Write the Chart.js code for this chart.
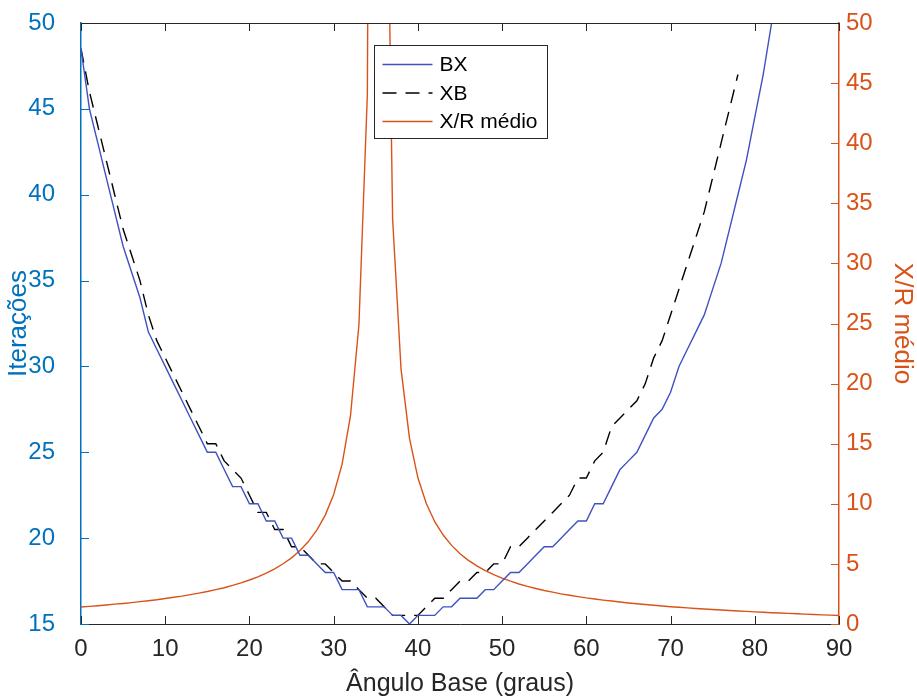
<!DOCTYPE html>
<html>
<head>
<meta charset="utf-8">
<script src="https://cdn.jsdelivr.net/npm/chart.js@4.4.1/dist/chart.umd.min.js"></script>
<style>
  html, body { margin: 0; padding: 0; background: #fff; }
  #wrap { width: 917px; height: 698px; }
</style>
</head>
<body>
<div id="wrap"><canvas id="chart" width="917" height="698"></canvas></div>
<script>
// angulo base (graus)
const angulos = [0,1,2,3,4,5,6,7,8,9,10,11,12,13,14,15,16,17,18,19,20,21,22,23,24,25,26,27,28,29,
  30,31,32,33,34,35,36,37,38,39,40,41,42,43,44,45,46,47,48,49,50,51,52,53,54,55,56,57,58,59,
  60,61,62,63,64,65,66,67,68,69,70,71,72,73,74,75,76,77,78,79,80,81,82,83,84,85,86,87,88,89,90];

// iteracoes - metodo BX (ate 82 graus)
const iterBX = [48.5,45,43,41,39,37,35.5,34,32,31,30,29,28,27,26,25,25,24,23,23,22,22,21,21,20,20,19,19,18.5,18,
  18,17,17,17,16,16,16,15.5,15.5,15,15.5,15.5,15.5,16,16,16.5,16.5,16.5,17,17,17.5,18,18,18.5,19,19.5,19.5,20,20.5,21,
  21,22,22,23,24,24.5,25,26,27,27.5,28.5,30,31,32,33,34.5,36,38,40,42,44.5,47,50];

// iteracoes - metodo XB (ate 78 graus)
const iterXB = [48.5,46,44,42,40,38,36.5,35,33,31.5,30.5,29.5,28.5,27.5,26.5,25.5,25.5,24.5,24,23.5,22.5,21.5,21.5,20.5,20.5,19.5,19.5,19,18.5,18.5,
  18,17.5,17.5,17,16.5,16.5,16,15.5,15.5,15.5,15.5,16,16.5,16.5,17,17.5,17.5,18,18,18.5,18.5,19.5,19.5,20,20.5,21,21.5,22,22.5,23.5,
  23.5,24.5,25,26.5,27,27.5,28,29,30.5,31.5,33,34.5,36,37.5,39,41,43,45,47];

// X/R medio (eixo direito)
const xrMedio = [1.41,1.47,1.52,1.58,1.65,1.71,1.78,1.86,1.94,2.02,2.12,2.22,2.32,2.44,2.57,2.70,2.86,3.02,3.21,3.42,
  3.66,3.92,4.23,4.59,5.01,5.50,6.11,6.86,7.81,9.06,10.78,13.30,17.34,24.90,44.07,191.0,81.85,33.69,21.20,15.46,
  12.16,10.02,8.51,7.40,6.54,5.85,5.29,4.83,4.44,4.10,3.81,3.56,3.33,3.13,2.95,2.79,2.65,2.51,2.39,2.28,
  2.17,2.08,1.99,1.91,1.83,1.75,1.68,1.62,1.56,1.50,1.44,1.39,1.34,1.29,1.25,1.21,1.16,1.12,1.08,1.05,
  1.01,0.98,0.94,0.91,0.88,0.85,0.82,0.79,0.76,0.74,0.71];

const ticksX = [0,10,20,30,40,50,60,70,80,90];
const ticksEsq = [15,20,25,30,35,40,45,50];
const ticksDir = [0,5,10,15,20,25,30,35,40,45,50];

const AZUL = '#0072BD';
const LARANJA = '#D95319';
const CINZA = '#262626';
const FONTE = '"Liberation Sans", Arial, sans-serif';

function pontos(ys) {
  return ys.map((y, i) => ({ x: angulos[i], y: y }));
}

// tamanho fixo dos eixos, sem folga extra dos rotulos
function fixa(larg, alt) {
  return s => {
    if (larg) s.width = larg;
    if (alt) s.height = alt;
    s.paddingTop = 0; s.paddingBottom = 0;
    s.paddingLeft = 0; s.paddingRight = 0;
  };
}

// ticks para dentro, estilo matlab
const ticksDentro = {
  id: 'ticksDentro',
  afterDatasetsDraw(chart) {
    const { ctx, chartArea: a, scales } = chart;
    const L = 8;
    ctx.save();
    ctx.lineWidth = 1;
    ctx.strokeStyle = CINZA;
    scales.x.ticks.forEach(t => {
      const px = Math.round(scales.x.getPixelForValue(t.value)) + 0.5;
      ctx.beginPath();
      ctx.moveTo(px, a.bottom); ctx.lineTo(px, a.bottom - L);
      ctx.moveTo(px, a.top); ctx.lineTo(px, a.top + L);
      ctx.stroke();
    });
    ctx.strokeStyle = AZUL;
    scales.y.ticks.forEach(t => {
      const py = Math.round(scales.y.getPixelForValue(t.value)) + 0.5;
      ctx.beginPath(); ctx.moveTo(a.left, py); ctx.lineTo(a.left + L, py); ctx.stroke();
    });
    ctx.strokeStyle = LARANJA;
    scales.y2.ticks.forEach(t => {
      const py = Math.round(scales.y2.getPixelForValue(t.value)) + 0.5;
      ctx.beginPath(); ctx.moveTo(a.right, py); ctx.lineTo(a.right - L, py); ctx.stroke();
    });
    // borda de cima
    ctx.strokeStyle = CINZA;
    ctx.beginPath(); ctx.moveTo(a.left, a.top + 0.5); ctx.lineTo(a.right, a.top + 0.5); ctx.stroke();
    ctx.restore();
  }
};

// legenda dentro do grafico
const legenda = {
  id: 'legenda',
  afterDraw(chart) {
    const { ctx, chartArea: a } = chart;
    const w = 173, h = 93;
    const x0 = Math.round((a.left + a.right) / 2 - w / 2) + 0.5;
    const y0 = Math.round(a.top) + 22.5;
    ctx.save();
    ctx.fillStyle = '#fff';
    ctx.fillRect(x0, y0, w, h);
    ctx.strokeStyle = CINZA;
    ctx.lineWidth = 1;
    ctx.strokeRect(x0, y0, w, h);
    ctx.font = '21px ' + FONTE;
    ctx.textBaseline = 'middle';
    chart.data.datasets.forEach((ds, i) => {
      const yy = y0 + 19 + i * 28.5;
      ctx.beginPath();
      ctx.strokeStyle = ds.borderColor;
      ctx.lineWidth = ds.borderWidth;
      ctx.setLineDash(ds.borderDash || []);
      ctx.moveTo(x0 + 8, yy); ctx.lineTo(x0 + 58, yy);
      ctx.stroke();
      ctx.setLineDash([]);
      ctx.fillStyle = '#000';
      ctx.fillText(ds.label, x0 + 65, yy + 1);
    });
    ctx.restore();
  }
};

new Chart(document.getElementById('chart'), {
  type: 'line',
  data: {
    datasets: [
      { label: 'BX', data: pontos(iterBX), yAxisID: 'y', borderColor: '#3F51C0', borderWidth: 1.4, pointRadius: 0, tension: 0 },
      { label: 'XB', data: pontos(iterXB), yAxisID: 'y', borderColor: '#000', borderWidth: 1.4, borderDash: [14, 9], pointRadius: 0, tension: 0 },
      { label: 'X/R médio', data: pontos(xrMedio), yAxisID: 'y2', borderColor: LARANJA, borderWidth: 1.4, pointRadius: 0, tension: 0 }
    ]
  },
  options: {
    responsive: false,
    animation: false,
    layout: { padding: { top: 23, left: 0, right: 0, bottom: 0 } },
    plugins: { legend: { display: false }, tooltip: { enabled: false } },
    scales: {
      x: {
        type: 'linear', min: 0, max: 90,
        afterBuildTicks: s => { s.ticks = ticksX.map(v => ({ value: v })); },
        afterFit: fixa(0, 74),
        grid: { display: false, drawTicks: false },
        border: { display: true, color: CINZA, width: 1 },
        ticks: { color: CINZA, font: { family: FONTE, size: 24 }, padding: 11, maxRotation: 0 },
        title: { display: true, text: 'Ângulo Base (graus)', color: CINZA, font: { family: FONTE, size: 25, lineHeight: 1 }, padding: { top: 0, bottom: 1 } }
      },
      y: {
        type: 'linear', position: 'left', min: 15, max: 50,
        afterBuildTicks: s => { s.ticks = ticksEsq.map(v => ({ value: v })); },
        afterFit: fixa(81, 0),
        grid: { display: false, drawTicks: false },
        border: { display: true, color: AZUL, width: 1.5 },
        ticks: { color: AZUL, font: { family: FONTE, size: 24 }, padding: 26 },
        title: { display: true, text: 'Iterações', color: AZUL, font: { family: FONTE, size: 26, lineHeight: 1 }, padding: { top: 6, bottom: 0 } }
      },
      y2: {
        type: 'linear', position: 'right', min: 0, max: 50,
        afterBuildTicks: s => { s.ticks = ticksDir.map(v => ({ value: v })); },
        afterFit: fixa(78, 0),
        grid: { display: false, drawTicks: false },
        border: { display: true, color: LARANJA, width: 1.5 },
        ticks: { color: LARANJA, font: { family: FONTE, size: 24 }, padding: 7 },
        title: { display: true, text: 'X/R médio', color: LARANJA, font: { family: FONTE, size: 26, lineHeight: 1 }, padding: { top: 2, bottom: 0 } }
      }
    }
  },
  plugins: [ticksDentro, legenda]
});
</script>
</body>
</html>
